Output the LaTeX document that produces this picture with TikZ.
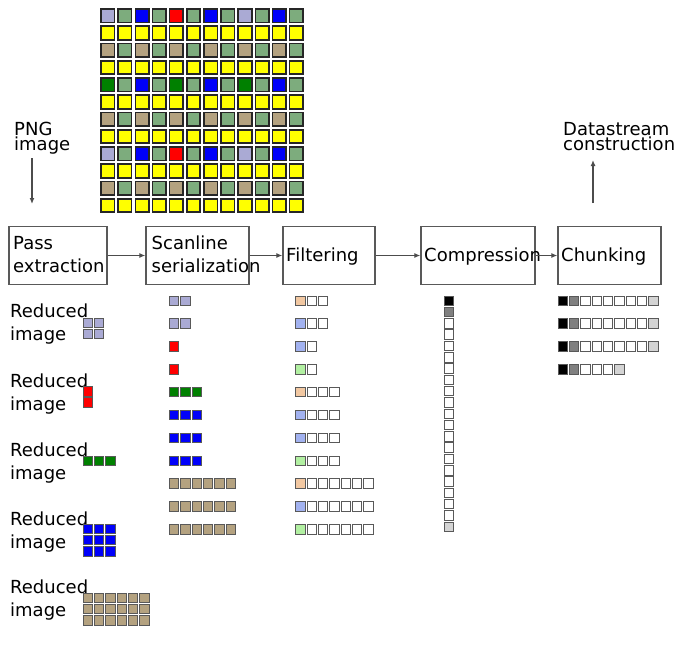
\documentclass[tikz,border=0pt]{standalone}
\usepackage{fontspec}
\setmainfont{DejaVu Sans}
\usetikzlibrary{arrows.meta}
\definecolor{p1}{RGB}{170,170,212}
\definecolor{p2}{RGB}{255,0,0}
\definecolor{p3}{RGB}{0,128,0}
\definecolor{p4}{RGB}{0,0,250}
\definecolor{p5}{RGB}{180,162,128}
\definecolor{p6}{RGB}{125,172,125}
\definecolor{p7}{RGB}{255,255,0}
\definecolor{f1}{RGB}{242,200,162}
\definecolor{f2}{RGB}{162,178,240}
\definecolor{f3}{RGB}{178,240,162}
\definecolor{cg}{RGB}{128,128,128}
\definecolor{lg}{RGB}{212,212,212}
\begin{document}
\begin{tikzpicture}[x=1pt,y=-1pt,
  box/.style={draw=black!65, line width=1.3pt, minimum height=57.5pt, inner sep=0pt},
  lbl/.style={inner sep=0pt, align=left, font=\fontsize{18}{23}\selectfont},
  lbltwo/.style={inner sep=0pt, align=left, font=\fontsize{18}{15}\selectfont},
  arr/.style={draw=black!70, line width=1.2pt, -{Latex[length=6pt,width=5pt]}},
  gsq/.style={draw=black!85, line width=1.6pt},
  ssq/.style={draw=black!65, line width=0.9pt},
]
\fill[white] (0,0) rectangle (700,658);
\useasboundingbox (0,0) rectangle (700,658);

% top Adam7 grid
\foreach \r/\pat in {
  0/{1,6,4,6,2,6,4,6,1,6,4,6},
  1/{7,7,7,7,7,7,7,7,7,7,7,7},
  2/{5,6,5,6,5,6,5,6,5,6,5,6},
  3/{7,7,7,7,7,7,7,7,7,7,7,7},
  4/{3,6,4,6,3,6,4,6,3,6,4,6},
  5/{7,7,7,7,7,7,7,7,7,7,7,7},
  6/{5,6,5,6,5,6,5,6,5,6,5,6},
  7/{7,7,7,7,7,7,7,7,7,7,7,7},
  8/{1,6,4,6,2,6,4,6,1,6,4,6},
  9/{7,7,7,7,7,7,7,7,7,7,7,7},
  10/{5,6,5,6,5,6,5,6,5,6,5,6},
  11/{7,7,7,7,7,7,7,7,7,7,7,7}} {
  \foreach \p [count=\c from 0] in \pat {
    \draw[gsq, fill=p\p] (101+\c*17.15, 9+\r*17.25) rectangle ++(13.5,13.5);
  }
}

% process boxes
\node[box, minimum width=98] (pass) at (58,255.5) {};
\node[box, minimum width=103] (scan) at (197.5,255.5) {};
\node[box, minimum width=92] (filt) at (329,255.5) {};
\node[box, minimum width=114] (comp) at (478,255.5) {};
\node[box, minimum width=103] (chunk) at (609.5,255.5) {};

\node[lbl, anchor=base west] (passT) at (13,272) {Pass\\extraction};
\node[lbl, anchor=base west] (scanT) at (151.5,272) {Scanline\\serialization};
\node[lbl, anchor=base west] (filtT) at (286,261) {Filtering};
\node[lbl, anchor=base west] (compT) at (424,261) {Compression};
\node[lbl, anchor=base west] (chunkT) at (561,261) {Chunking};

\draw[arr] (pass.east) -- (scan.west);
\draw[arr] (scan.east) -- (filt.west);
\draw[arr] (filt.east) -- (comp.west);
\draw[arr] (comp.east) -- (chunk.west);

% input / output
\node[lbltwo, anchor=base west] (png) at (14,150) {PNG\\image};
\coordinate (pngS) at (32,158);
\coordinate (pngE) at (32,204);
\draw[arr] (pngS) -- (pngE);
\node[lbltwo, anchor=base west] (ds) at (563,150) {Datastream\\construction};
\coordinate (dsS) at (593,203);
\coordinate (dsE) at (593,160);
\draw[arr] (dsS) -- (dsE);

% reduced images
\foreach \y [count=\k] in {340,410,479,548,616}
  \node[lbl, anchor=base west] (red\k) at (10,\y) {Reduced\\image};
\foreach \i in {0,1} \foreach \j in {0,1}
  \draw[ssq, fill=p1] (83+\i*11.33, 318+\j*11.33) rectangle ++(9.5,9.5);
\foreach \j in {0,1}
  \draw[ssq, fill=p2] (83, 386.5+\j*11.33) rectangle ++(9.5,9.5);
\foreach \i in {0,1,2}
  \draw[ssq, fill=p3] (83+\i*11.33, 456) rectangle ++(9.5,9.5);
\foreach \i in {0,1,2} \foreach \j in {0,1,2}
  \draw[ssq, fill=p4] (83+\i*11.33, 524+\j*11.33) rectangle ++(9.5,9.5);
\foreach \i in {0,...,5} \foreach \j in {0,1,2}
  \draw[ssq, fill=p5] (83+\i*11.33, 593+\j*11.33) rectangle ++(9.5,9.5);

% scanlines
\foreach \col/\n [count=\k from 0] in {p1/2,p1/2,p2/1,p2/1,p3/3,p4/3,p4/3,p4/3,p5/6,p5/6,p5/6} {
  \foreach \i in {1,...,\n}
    \draw[ssq, fill=\col] (169.3+\i*11.33-11.33, 296+\k*22.85) rectangle ++(9.5,9.5);
}

% filtered scanlines
\foreach \col/\n [count=\k from 0] in {f1/2,f2/2,f2/1,f3/1,f1/3,f2/3,f2/3,f3/3,f1/6,f2/6,f3/6} {
  \draw[ssq, fill=\col] (295.7, 296+\k*22.85) rectangle ++(9.5,9.5);
  \foreach \i in {1,...,\n}
    \draw[ssq, fill=white] (295.7+\i*11.33, 296+\k*22.85) rectangle ++(9.5,9.5);
}

% compressed stream
\draw[ssq, fill=black] (444,296) rectangle ++(9.5,9.5);
\draw[ssq, fill=cg] (444,296+11.3) rectangle ++(9.5,9.5);
\foreach \k in {2,...,19}
  \draw[ssq, fill=white] (444,296+\k*11.3) rectangle ++(9.5,9.5);
\draw[ssq, fill=lg] (444,296+20*11.3) rectangle ++(9.5,9.5);

% chunks
\foreach \n [count=\k from 0] in {6,6,6,3} {
  \draw[ssq, fill=black] (558, 296+\k*22.85) rectangle ++(9.5,9.5);
  \draw[ssq, fill=cg] (558+11.33, 296+\k*22.85) rectangle ++(9.5,9.5);
  \foreach \i in {1,...,\n}
    \draw[ssq, fill=white] (558+\i*11.33+11.33, 296+\k*22.85) rectangle ++(9.5,9.5);
  \draw[ssq, fill=lg] (558+\n*11.33+22.66, 296+\k*22.85) rectangle ++(9.5,9.5);
}
\end{tikzpicture}
\end{document}
